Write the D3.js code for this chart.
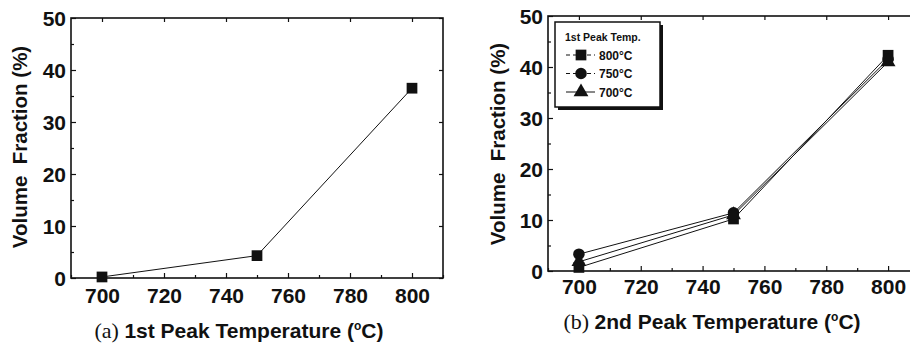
<!DOCTYPE html>
<html>
<head>
<meta charset="utf-8">
<script src="https://cdn.jsdelivr.net/npm/d3@7"></script>
<style>
  body { margin: 0; background: #fff; }
  svg { display: block; font-family: "Liberation Sans", Arial, sans-serif; }
</style>
</head>
<body>
<svg id="chart" width="910" height="347"></svg>
<script>
// panel (a): volume fraction vs 1st peak temperature
const tempsA = [700, 750, 800];
const fracA = [0.2, 4.3, 36.5];

// panel (b): volume fraction vs 2nd peak temperature, one series per 1st peak temp
const tempsB = [700, 750, 800];
const seriesNames = ["800°C", "750°C", "700°C"];
const seriesSymbols = ["square", "circle", "triangle"];
const frac800 = [0.7, 10.2, 42.3];
const frac750 = [3.3, 11.4, 41.5];
const frac700 = [1.8, 11.0, 41.0];

const xTicks = [700, 720, 740, 760, 780, 800];
const yTicks = [0, 10, 20, 30, 40, 50];

const svg = d3.select("#chart");

function symbolFor(name) {
  if (name === "square") return d3.symbol(d3.symbolSquare, 115);
  if (name === "circle") return d3.symbol(d3.symbolCircle, 105);
  return d3.symbol(d3.symbolTriangle, 95);
}

function drawPanel(opt) {
  const x = d3.scaleLinear().domain([690, 810]).range([opt.left, opt.right]);
  const y = d3.scaleLinear().domain([0, 50]).range([opt.bottom, opt.top]);
  const g = svg.append("g");

  // inward ticks, bottom + top
  const xb = g.append("g").attr("transform", "translate(0," + opt.bottom + ")")
    .call(d3.axisBottom(x).tickValues(xTicks).tickSize(-5).tickFormat(d3.format("d")));
  const xm = g.append("g").attr("transform", "translate(0," + opt.bottom + ")")
    .call(d3.axisBottom(x).tickValues([690, 710, 730, 750, 770, 790, 810]).tickSize(-3).tickFormat(""));
  const xt = g.append("g").attr("transform", "translate(0," + opt.top + ")")
    .call(d3.axisTop(x).tickValues(xTicks).tickSize(-4).tickFormat(""));
  const yl = g.append("g").attr("transform", "translate(" + opt.left + ",0)")
    .call(d3.axisLeft(y).tickValues(yTicks).tickSize(-5));
  const ym = g.append("g").attr("transform", "translate(" + opt.left + ",0)")
    .call(d3.axisLeft(y).tickValues([5, 15, 25, 35, 45]).tickSize(-3).tickFormat(""));
  const yr = g.append("g").attr("transform", "translate(" + opt.right + ",0)")
    .call(d3.axisRight(y).tickValues(yTicks).tickSize(-4).tickFormat(""));

  [xb, xm, xt, yl, ym, yr].forEach(a => {
    a.select(".domain").remove();
    a.selectAll("line").attr("stroke", "#111").attr("stroke-width", 1.2);
  });
  xb.selectAll("text").attr("font-size", 21).attr("font-weight", "bold").attr("fill", "#111")
    .attr("font-family", "Liberation Sans, Arial, sans-serif")
    .attr("y", opt.xLabelY - opt.bottom).attr("dy", 0);
  yl.selectAll("text").attr("font-size", 21).attr("font-weight", "bold").attr("fill", "#111")
    .attr("font-family", "Liberation Sans, Arial, sans-serif")
    .attr("x", -5).attr("dy", "0.36em");

  // frame
  g.append("rect")
    .attr("x", opt.left).attr("y", opt.top)
    .attr("width", opt.right - opt.left).attr("height", opt.bottom - opt.top)
    .attr("fill", "none").attr("stroke", "#111").attr("stroke-width", 1.6);

  // y label
  g.append("text")
    .attr("transform", "translate(" + opt.yLabelX + "," + opt.yLabelMid + ") rotate(-90)")
    .attr("text-anchor", "middle").attr("font-size", 20.5).attr("font-weight", "bold").attr("fill", "#111")
    .attr("xml:space", "preserve")
    .text("Volume  Fraction (%)");

  // caption
  const cap = g.append("text")
    .attr("x", opt.capX).attr("y", opt.capY)
    .attr("text-anchor", "middle").attr("font-size", 21).attr("fill", "#111");
  cap.append("tspan").attr("font-family", "Liberation Serif, serif").attr("font-size", 22).text(opt.capTag + " ");
  cap.append("tspan").attr("font-weight", "bold").text(opt.capText + " (");
  cap.append("tspan").attr("font-weight", "bold").attr("font-size", 12).attr("dy", -8).text("o");
  cap.append("tspan").attr("font-weight", "bold").attr("dy", 8).text("C)");

  return { g, x, y };
}

// ---------- panel (a)
const pa = drawPanel({
  left: 71, right: 443, top: 18, bottom: 278,
  xLabelY: 303, yLabelX: 27, yLabelMid: 147,
  capX: 239, capY: 338, capTag: "(a)", capText: "1st Peak Temperature"
});
const lineA = d3.line().x((d, i) => pa.x(tempsA[i])).y(d => pa.y(d));
pa.g.append("path").datum(fracA).attr("d", lineA)
  .attr("fill", "none").attr("stroke", "#111").attr("stroke-width", 1);
pa.g.selectAll(".pt").data(fracA).join("path")
  .attr("transform", (d, i) => "translate(" + pa.x(tempsA[i]) + "," + pa.y(d) + ")")
  .attr("d", symbolFor("square")).attr("fill", "#111");

// ---------- panel (b)
const pb = drawPanel({
  left: 548, right: 919, top: 16, bottom: 271,
  xLabelY: 294, yLabelX: 505, yLabelMid: 144,
  capX: 712, capY: 329, capTag: "(b)", capText: "2nd Peak Temperature"
});
const seriesB = [frac800, frac750, frac700];
const lineB = d3.line().x((d, i) => pb.x(tempsB[i])).y(d => pb.y(d));
seriesB.forEach((s, k) => {
  pb.g.append("path").datum(s).attr("d", lineB)
    .attr("fill", "none").attr("stroke", "#111").attr("stroke-width", 1);
});
seriesB.forEach((s, k) => {
  pb.g.selectAll(".pt" + k).data(s).join("path")
    .attr("transform", (d, i) => "translate(" + pb.x(tempsB[i]) + "," + pb.y(d) + ")")
    .attr("d", symbolFor(seriesSymbols[k])).attr("fill", "#111");
});

// legend
const lg = pb.g.append("g").attr("transform", "translate(555,22)");
lg.append("rect").attr("x", 3).attr("y", 3).attr("width", 105).attr("height", 85).attr("fill", "#111");
lg.append("rect").attr("x", 0).attr("y", 0).attr("width", 105).attr("height", 85)
  .attr("fill", "#fff").attr("stroke", "#111").attr("stroke-width", 1.5);
lg.append("text").attr("x", 10).attr("y", 19).attr("font-size", 10.5).attr("font-weight", "bold")
  .attr("fill", "#111").text("1st Peak Temp.");
seriesNames.forEach((nm, k) => {
  const yy = 33 + k * 18.5;
  lg.append("line").attr("x1", 11).attr("x2", 40).attr("y1", yy).attr("y2", yy)
    .attr("stroke", "#111").attr("stroke-width", 1).attr("stroke-dasharray", k === 2 ? null : "4,3");
  lg.append("path").attr("transform", "translate(26," + yy + ")")
    .attr("d", symbolFor(seriesSymbols[k])).attr("fill", "#111");
  lg.append("text").attr("x", 44).attr("y", yy + 4.5).attr("font-size", 12).attr("font-weight", "bold")
    .attr("fill", "#111").text(nm);
});
</script>
</body>
</html>
